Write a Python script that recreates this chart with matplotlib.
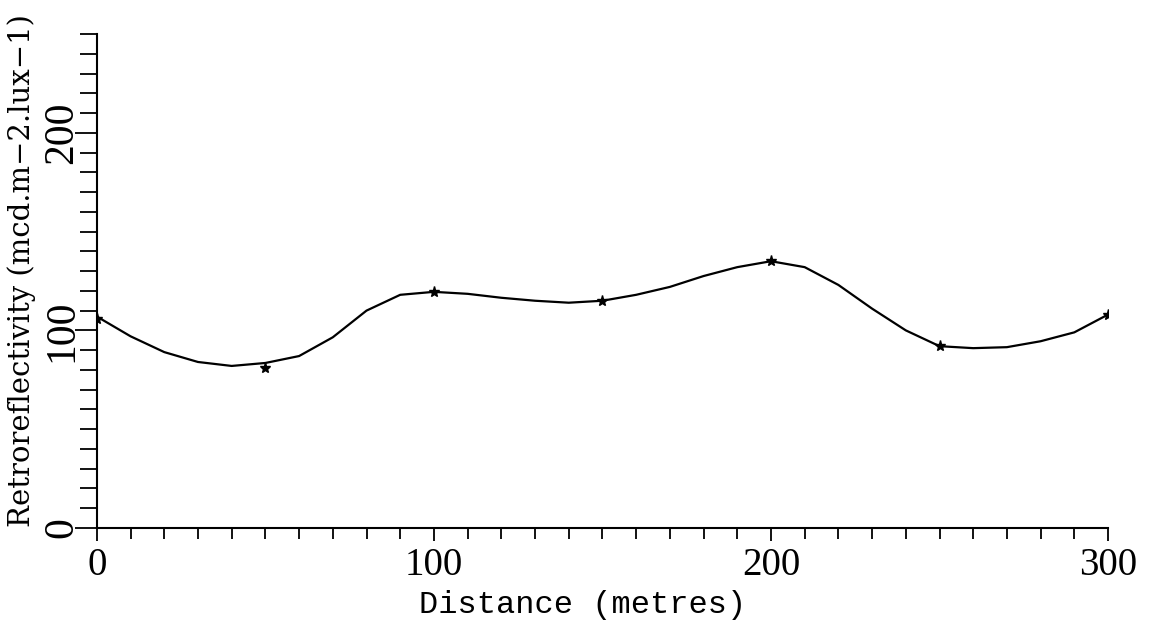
import matplotlib
matplotlib.use("Agg")
import matplotlib.pyplot as plt

# measured points (stars)
dist_pts = [0, 50, 100, 150, 200, 250, 300]
retro_pts = [106, 81, 119.5, 115, 135, 92, 108]

# fitted curve, every 10 m
curve_x = [0, 10, 20, 30, 40, 50, 60, 70, 80, 90, 100, 110, 120, 130, 140, 150,
           160, 170, 180, 190, 200, 210, 220, 230, 240, 250, 260, 270, 280, 290, 300]
curve_y = [107, 97, 89, 84, 82, 83.5, 87, 96.5, 110, 118, 119.5, 118.5, 116.5, 115, 114, 115,
           118, 122, 127.5, 132, 135, 132, 123, 111, 100, 92, 91, 91.5, 94.5, 99, 108]

x_major = [0, 100, 200, 300]
y_major = [0, 100, 200]

plt.rcParams['font.family'] = ['Liberation Serif', 'DejaVu Serif']

fig = plt.figure(figsize=(11.53, 6.30), dpi=100)
ax = fig.add_axes([0.084, 0.162, 0.877, 0.784])

ax.plot(curve_x, curve_y, color='black', lw=1.6, solid_joinstyle='round',
        solid_capstyle='round')
ax.plot(dist_pts, retro_pts, ls='none', marker='*', ms=8, color='black')

ax.set_xlim(0, 300)
ax.set_ylim(0, 250)
ax.spines['top'].set_visible(False)
ax.spines['right'].set_visible(False)
for sp in ax.spines.values():
    sp.set_linewidth(1.5)

ax.set_xticks(x_major)
ax.set_xticks(range(0, 301, 10), minor=True)
ax.set_yticks(y_major)
ax.set_yticks(range(0, 251, 10), minor=True)

ax.tick_params(axis='x', which='major', direction='out', length=9, width=1.3,
               labelsize=28, pad=5)
ax.tick_params(axis='x', which='minor', direction='out', length=8, width=1.3)
ax.tick_params(axis='y', which='major', direction='out', length=16, width=1.3,
               labelsize=30, pad=-5)
ax.tick_params(axis='y', which='minor', direction='out', length=12, width=1.3)
for lab in ax.get_yticklabels():
    lab.set_rotation(90)
    lab.set_va('center')

ax.set_xlabel('Distance (metres)', fontsize=23, family='Liberation Mono')
ax.xaxis.set_label_coords(0.48, -0.125)
ax.set_ylabel('Retroreflectivity (mcd.m\u22122.lux\u22121)', fontsize=21,
              family='DejaVu Serif')
ax.yaxis.set_label_coords(-0.06, 0.522)

fig.savefig('out.png', dpi=100, facecolor='white')
